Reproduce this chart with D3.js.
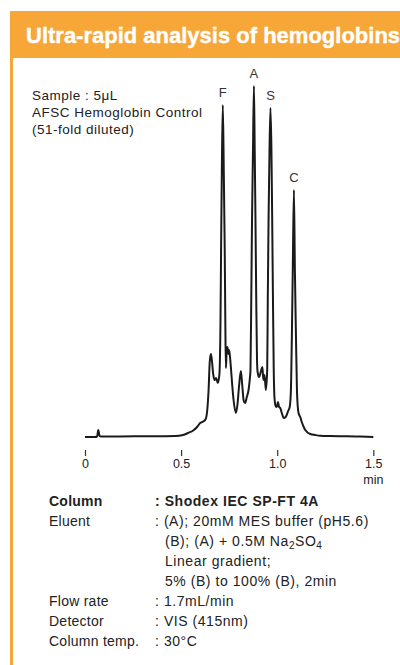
<!DOCTYPE html>
<html>
<head>
<meta charset="utf-8">
<script src="https://cdn.jsdelivr.net/npm/d3@7"></script>
<style>
  html, body { margin: 0; padding: 0; background: #ffffff; }
  svg { display: block; }
  text { font-family: "Liberation Sans", Arial, Helvetica, sans-serif; }
</style>
</head>
<body>
<div id="chart"></div>
<script>
// ---- data ----
const title = "Ultra-rapid analysis of hemoglobins";
const sampleLines = ["Sample : 5\u03bcL", "AFSC Hemoglobin Control", "(51-fold diluted)"];

// retention time (min)
const times = [
  0.000, 0.052, 0.063, 0.069, 0.076, 0.083, 0.182, 0.339, 0.469, 0.510,
  0.536, 0.563, 0.583, 0.599, 0.615, 0.628, 0.635, 0.643, 0.649, 0.655,
  0.660, 0.667, 0.674, 0.682, 0.691, 0.699, 0.705, 0.708, 0.712, 0.717,
  0.722, 0.727, 0.730, 0.733, 0.737, 0.741, 0.746, 0.750, 0.758, 0.766,
  0.773, 0.785, 0.793, 0.802, 0.811, 0.818, 0.826, 0.833, 0.842, 0.851,
  0.857, 0.861, 0.865, 0.869, 0.874, 0.879, 0.883, 0.887, 0.891, 0.895,
  0.898, 0.906, 0.917, 0.923, 0.928, 0.934, 0.941, 0.948, 0.951, 0.955,
  0.960, 0.965, 0.970, 0.974, 0.978, 0.982, 0.986, 0.992, 0.998, 1.004,
  1.010, 1.016, 1.024, 1.034, 1.044, 1.057, 1.065, 1.071, 1.076, 1.081,
  1.087, 1.092, 1.098, 1.103, 1.111, 1.120, 1.128, 1.138, 1.146, 1.172,
  1.198, 1.224, 1.276, 1.354, 1.432, 1.500
];
// detector response (arbitrary units)
const signal = [
  0, 0, 0.5, 7, 1, 0.5, 0.6, 0.7, 1, 2,
  4, 6.5, 10, 14, 15.5, 18, 25, 47, 75, 83,
  77, 63, 57, 59, 54, 62, 117, 187, 267, 332,
  267, 187, 117, 69, 85, 90, 83, 87, 72, 52,
  37, 24, 32, 52, 66, 52, 36, 34, 40, 47,
  57, 67, 137, 217, 287, 351, 287, 217, 137, 77,
  65, 60, 67, 70, 57, 62, 47, 67, 137, 217,
  287, 329, 287, 217, 137, 67, 39, 31, 30, 35,
  30, 29, 24, 19, 20, 26, 30, 45, 97, 167,
  247, 167, 97, 45, 24, 20, 15, 10, 7, 3,
  2, 1.3, 1, 0.8, 0.5, 0
];

const peakNames = ["F", "A", "S", "C"];
const peakTimes = [0.717, 0.879, 0.965, 1.087];
const peakHeights = [332, 351, 329, 247];

const tickValues = [0, 0.5, 1.0, 1.5];
const tickLabels = ["0", "0.5", "1.0", "1.5"];
const xUnit = "min";

const condLabels = ["Column", "Eluent", "", "", "", "Flow rate", "Detector", "Column temp."];
const condValues = [
  ": Shodex IEC SP-FT 4A",
  ": (A); 20mM MES buffer (pH5.6)",
  "(B); (A) + 0.5M Na|2|SO|4",
  "Linear gradient;",
  "5% (B) to 100% (B), 2min",
  ": 1.7mL/min",
  ": VIS (415nm)",
  ": 30\u00b0C"
];

// ---- drawing ----
const W = 400, H = 665;
const orange = "#F7A638";
const svg = d3.select("#chart").append("svg").attr("width", W).attr("height", H);

// frame: header band and left rule
svg.append("rect").attr("x", 10).attr("y", 11).attr("width", W - 10).attr("height", 47).attr("fill", orange);
svg.append("rect").attr("x", 10).attr("y", 11).attr("width", 3).attr("height", H - 11).attr("fill", orange);
svg.append("text").attr("x", 26).attr("y", 43.3)
  .attr("fill", "#ffffff").attr("font-weight", "bold").attr("font-size", 22)
  .attr("stroke", "#ffffff").attr("stroke-width", 0.4)
  .text(title);

// sample description
svg.append("g").selectAll("text").data(sampleLines).join("text")
  .attr("x", 32).attr("y", (d, i) => 100 + i * 17)
  .attr("font-size", 13.5).attr("fill", "#222").attr("letter-spacing", 0.5)
  .text(d => d);

// scales
const x = d3.scaleLinear().domain([0, 1.5]).range([85, 373.3]);
const y = d3.scaleLinear().domain([0, 360]).range([437, 77]);

const data = times.map((t, i) => ({ t, v: signal[i] }));
svg.append("path").datum(data)
  .attr("fill", "none").attr("stroke", "#1a1a1a").attr("stroke-width", 2)
  .attr("stroke-linejoin", "round")
  .attr("d", d3.line().x(d => x(d.t)).y(d => y(d.v)).curve(d3.curveMonotoneX));

// peak labels
svg.append("g").selectAll("text").data(peakNames).join("text")
  .attr("x", (d, i) => x(peakTimes[i]))
  .attr("y", (d, i) => y(peakHeights[i]) - 8)
  .attr("text-anchor", "middle").attr("font-size", 13).attr("fill", "#333")
  .text(d => d);

// x axis (ticks + labels, no domain line)
const axis = d3.axisBottom(x).tickValues(tickValues)
  .tickFormat((d, i) => tickLabels[i]).tickSize(6).tickPadding(3);
const ax = svg.append("g").attr("transform", "translate(0,450)").call(axis);
ax.select(".domain").remove();
ax.selectAll(".tick line").attr("stroke", "#333").attr("stroke-width", 1.2);
ax.selectAll(".tick text").attr("font-size", 12.5).attr("fill", "#222")
  .attr("font-family", "Liberation Sans, Arial, sans-serif");
svg.append("text").attr("x", x(1.5)).attr("y", 483.5).attr("text-anchor", "middle")
  .attr("font-size", 12.5).attr("fill", "#222").text(xUnit);

// conditions
const rowY = [506, 526, 546, 566, 585.5, 605.5, 625.5, 645.5];
const cond = svg.append("g").attr("font-size", 14).attr("fill", "#222");
condLabels.forEach((lab, i) => {
  if (lab) {
    cond.append("text").attr("x", 49).attr("y", rowY[i]).attr("letter-spacing", 0.25)
      .attr("font-weight", i === 0 ? "bold" : "normal").text(lab);
  }
});
condValues.forEach((val, i) => {
  const startsWithColon = val.startsWith(":");
  const t = cond.append("text").attr("x", startsWithColon ? 155 : 165).attr("y", rowY[i])
    .attr("letter-spacing", 0.55)
    .attr("font-weight", i === 0 ? "bold" : "normal");
  const parts = val.split("|");
  parts.forEach((p, k) => {
    const sub = k % 2 === 1;
    t.append("tspan").attr("font-size", sub ? 10 : 14)
      .attr("dy", sub ? 3 : (k > 0 ? -3 : 0)).text(p);
  });
});
</script>
</body>
</html>
